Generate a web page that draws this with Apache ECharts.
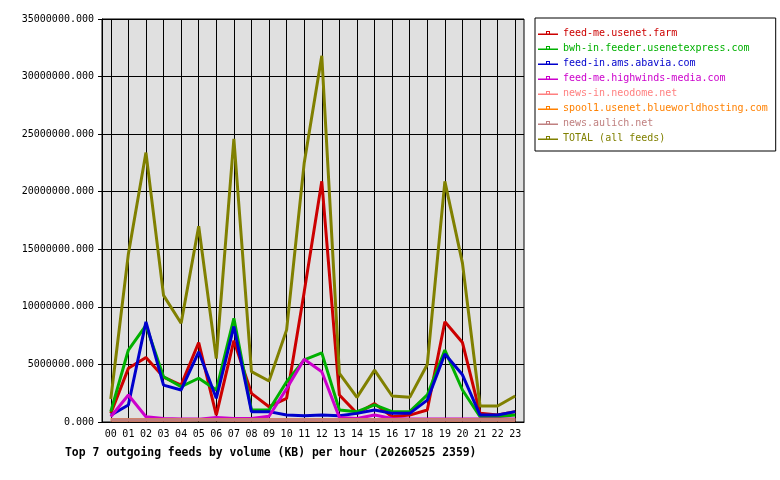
<!DOCTYPE html>
<html>
<head>
<meta charset="utf-8">
<script src="https://cdn.jsdelivr.net/npm/echarts@6/dist/echarts.min.js"></script>
<style>
  html, body { margin: 0; padding: 0; background: #fff; }
  #chart { width: 780px; height: 480px; }
</style>
</head>
<body>
<div id="chart"></div>
<script>
// hours on the x axis
var hours = ['00','01','02','03','04','05','06','07','08','09','10','11',
             '12','13','14','15','16','17','18','19','20','21','22','23'];

// values in KB
var usenetFarm   = [0.75e6, 4.66e6, 5.6e6, 3.9e6, 3.2e6, 6.9e6, 0.6e6, 7.06e6, 2.49e6, 1.33e6, 2.06e6, 11.3e6,
                    20.9e6, 2.35e6, 0.75e6, 1.6e6, 0.46e6, 0.6e6, 1.04e6, 8.7e6, 6.9e6, 0.75e6, 0.6e6, 0.9e6];
var usenetExpress = [0.9e6, 6.25e6, 8.4e6, 3.93e6, 3.07e6, 3.8e6, 2.78e6, 9.0e6, 1.04e6, 1.04e6, 3.5e6, 5.4e6,
                    6.0e6, 1.04e6, 0.9e6, 1.48e6, 0.9e6, 0.9e6, 2.35e6, 6.25e6, 2.78e6, 0.46e6, 0.46e6, 0.6e6];
var abavia       = [0.6e6, 1.48e6, 8.7e6, 3.2e6, 2.78e6, 6.1e6, 2.06e6, 8.3e6, 0.9e6, 0.9e6, 0.6e6, 0.55e6,
                    0.6e6, 0.55e6, 0.75e6, 1.04e6, 0.75e6, 0.75e6, 1.9e6, 5.9e6, 4.1e6, 0.6e6, 0.6e6, 0.9e6];
var highwinds    = [0.46e6, 2.35e6, 0.46e6, 0.3e6, 0.25e6, 0.25e6, 0.4e6, 0.3e6, 0.3e6, 0.5e6, 2.9e6, 5.45e6,
                    4.37e6, 0.4e6, 0.3e6, 0.6e6, 0.3e6, 0.25e6, 0.25e6, 0.25e6, 0.25e6, 0.25e6, 0.25e6, 0.25e6];
var neodome      = [0.18e6, 0.18e6, 0.18e6, 0.18e6, 0.18e6, 0.22e6, 0.22e6, 0.18e6, 0.18e6, 0.18e6, 0.18e6, 0.18e6,
                    0.18e6, 0.18e6, 0.18e6, 0.18e6, 0.18e6, 0.18e6, 0.18e6, 0.18e6, 0.18e6, 0.18e6, 0.18e6, 0.18e6];
var blueworld    = [0.2e6, 0.2e6, 0.2e6, 0.2e6, 0.2e6, 0.2e6, 0.2e6, 0.2e6, 0.2e6, 0.2e6, 0.2e6, 0.2e6,
                    0.2e6, 0.2e6, 0.2e6, 0.2e6, 0.2e6, 0.2e6, 0.2e6, 0.2e6, 0.2e6, 0.2e6, 0.2e6, 0.2e6];
var aulich       = [0.2e6, 0.2e6, 0.2e6, 0.2e6, 0.2e6, 0.2e6, 0.2e6, 0.2e6, 0.2e6, 0.2e6, 0.2e6, 0.2e6,
                    0.2e6, 0.2e6, 0.2e6, 0.2e6, 0.2e6, 0.2e6, 0.2e6, 0.2e6, 0.2e6, 0.2e6, 0.2e6, 0.2e6];
var total        = [2.0e6, 14.6e6, 23.4e6, 11.0e6, 8.57e6, 17.0e6, 5.5e6, 24.6e6, 4.37e6, 3.56e6, 8.0e6, 22.5e6,
                    31.8e6, 4.23e6, 2.14e6, 4.5e6, 2.26e6, 2.14e6, 5.0e6, 20.9e6, 13.8e6, 1.39e6, 1.39e6, 2.26e6];

var feedNames = ['feed-me.usenet.farm', 'bwh-in.feeder.usenetexpress.com', 'feed-in.ams.abavia.com',
                 'feed-me.highwinds-media.com', 'news-in.neodome.net', 'spool1.usenet.blueworldhosting.com',
                 'news.aulich.net', 'TOTAL (all feeds)'];
var feedData = [usenetFarm, usenetExpress, abavia, highwinds, neodome, blueworld, aulich, total];
var feedColors = ['#cc0000', '#00b000', '#0000cc', '#cc00cc', '#ff8080', '#ff8000', '#c08080', '#808000'];

var mono = 'DejaVu Sans Mono';

// legend key: line with a small hollow box on it
var keyIcon = 'path://M0,3.5H20V5H0Z M8,1H12V2H8Z M8,1H9V4H8Z M11,1H12V4H11Z';

// plot box
var plotLeft = 102, plotRight = 256, plotTop = 19, plotBottom = 58;
var halfStep = (780 - plotLeft - plotRight) / hours.length / 2;

var chart = echarts.init(document.getElementById('chart'));

var series = feedNames.map(function (name, i) {
    return {
        name: name,
        type: 'line',
        data: feedData[i],
        showSymbol: false,
        color: feedColors[i],
        lineStyle: { width: 3, color: feedColors[i] }
    };
});

chart.setOption({
    animation: false,
    backgroundColor: '#ffffff',
    title: {
        text: 'Top 7 outgoing feeds by volume (KB) per hour (20260525 2359)',
        left: 60,
        top: 443,
        textStyle: { fontFamily: mono, fontSize: 11.4, fontWeight: 'bold', color: '#000' }
    },
    legend: {
        orient: 'vertical',
        left: 535,
        top: 18,
        width: 240,
        padding: [10, 8, 8, 3],
        itemGap: 5,
        itemWidth: 20,
        itemHeight: 5,
        icon: keyIcon,
        borderColor: '#000',
        borderWidth: 1,
        backgroundColor: '#fff',
        textStyle: { fontFamily: mono, fontSize: 10, lineHeight: 10 },
        data: feedNames.map(function (name, i) {
            return { name: name, textStyle: { color: feedColors[i] } };
        })
    },
    grid: [{
        left: plotLeft,
        right: plotRight,
        top: plotTop,
        bottom: plotBottom,
        show: true,
        backgroundColor: '#e0e0e0',
        borderColor: '#000',
        borderWidth: 1
    }, {
        // second box, inset by half a category, only for the vertical lines on the hours
        left: plotLeft + halfStep,
        right: plotRight + halfStep,
        top: plotTop,
        bottom: plotBottom,
        show: false
    }],
    xAxis: [{
        type: 'category',
        data: hours,
        boundaryGap: true,
        axisLine: { lineStyle: { color: '#000', width: 1 } },
        axisTick: { alignWithLabel: true, length: 4, lineStyle: { color: '#000' } },
        axisLabel: { fontFamily: mono, fontSize: 10, color: '#000', margin: 7, interval: 0 },
        splitLine: { show: false }
    }, {
        type: 'value',
        gridIndex: 1,
        min: 0,
        max: hours.length - 1,
        interval: 1,
        axisLine: { show: false },
        axisTick: { show: false },
        axisLabel: { show: false },
        splitLine: { show: true, lineStyle: { color: '#000', width: 1 } }
    }],
    yAxis: [{
        type: 'value',
        min: 0,
        max: 35000000,
        interval: 5000000,
        axisLine: { show: true, lineStyle: { color: '#000', width: 1 } },
        axisTick: { show: true, length: 4, lineStyle: { color: '#000' } },
        axisLabel: {
            fontFamily: mono, fontSize: 10, color: '#000', margin: 8,
            formatter: function (v) { return v.toFixed(3); }
        },
        splitLine: { show: true, lineStyle: { color: '#000', width: 1 } }
    }, {
        type: 'value',
        gridIndex: 1,
        show: false,
        splitLine: { show: false }
    }],
    series: series
});
</script>
</body>
</html>
